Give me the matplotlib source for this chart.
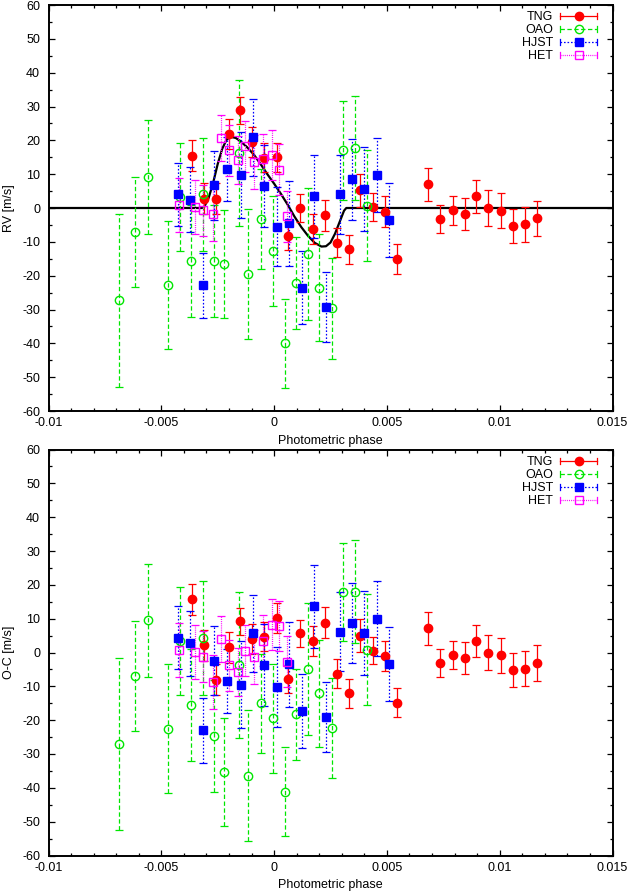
import matplotlib
matplotlib.use('Agg')
import matplotlib.pyplot as plt
from matplotlib.lines import Line2D
from matplotlib.legend_handler import HandlerBase
from matplotlib.ticker import MultipleLocator, FixedLocator, FixedFormatter

plt.rcParams['font.family'] = ['Liberation Sans', 'DejaVu Sans']
plt.rcParams['axes.unicode_minus'] = False

# ---------------- data ----------------
tng_phase = [-0.00363, -0.00310, -0.00257, -0.00202, -0.00149, -0.00096, -0.00043, 0.00012,
             0.00063, 0.00116, 0.00171, 0.00224, 0.00277, 0.00330, 0.00382, 0.00437,
             0.00490, 0.00544, 0.00683, 0.00736, 0.00791, 0.00845, 0.00897, 0.00950,
             0.01004, 0.01058, 0.01111, 0.01164]
tng_rv = [15.5, 2.8, 2.8, 21.8, 28.9, 19.5, 14.9, 15.0,
          -8.3, 0.0, -6.3, -2.1, -10.3, -12.2, 5.2, 0.3,
          -1.1, -15.0, 7.0, -3.2, -0.7, -1.7, 3.4, 0.0,
          -0.8, -5.2, -4.8, -3.1]
tng_err = [4.5, 4.5, 4.5, 4.5, 4.0, 4.5, 4.3, 4.3,
           4.2, 4.0, 4.4, 4.6, 4.3, 4.3, 4.8, 4.0,
           4.5, 4.4, 4.9, 4.1, 4.2, 4.8, 4.8, 5.3,
           5.2, 5.0, 5.2, 5.2]
tng_oc = [15.7, 2.1, -8.0, 1.5, 9.3, 4.0, 4.7, 10.2,
          -7.9, 5.7, 3.5, 8.8, -6.3, -12.0, 5.0, 0.5,
          -1.0, -14.8, 7.2, -3.2, -0.7, -1.7, 3.4, 0.0,
          -0.8, -5.2, -4.8, -3.1]

oao_phase = [-0.00686, -0.00615, -0.00559, -0.00470, -0.00419, -0.00369, -0.00317, -0.00265,
             -0.00220, -0.00155, -0.00116, -0.00059, -0.00007, 0.00047, 0.00099, 0.00152,
             0.00200, 0.00255, 0.00307, 0.00358, 0.00410]
oao_rv = [-27.3, -7.1, 9.2, -22.7, 3.3, -15.7, 4.0, -15.7,
          -16.5, 16.2, -19.5, -3.2, -12.8, -40.0, -22.2, -13.5,
          -23.5, -29.7, 17.0, 17.8, 0.7]
oao_err = [25.5, 16.3, 16.8, 19.0, 16.0, 16.5, 16.8, 16.5,
           16.0, 21.5, 19.3, 14.7, 16.2, 13.2, 13.5, 19.5,
           15.9, 14.9, 14.5, 15.3, 16.4]
oao_oc = [-27.0, -6.9, 9.5, -22.5, 3.5, -15.5, 4.2, -24.6,
          -35.4, -3.7, -36.4, -15.0, -19.5, -41.1, -18.3, -4.8,
          -12.1, -22.3, 18.0, 18.0, 0.8]

hjst_phase = [-0.00428, -0.00373, -0.00317, -0.00265, -0.00209, -0.00147, -0.00094, -0.00043,
              0.00013, 0.00068, 0.00123, 0.00177, 0.00230, 0.00292, 0.00345, 0.00400,
              0.00454, 0.00510]
hjst_rv = [4.1, 2.5, -22.8, 6.7, 11.5, 9.7, 20.9, 6.5,
           -5.5, -4.5, -23.5, 3.5, -29.3, 4.0, 8.5, 5.7,
           9.7, -3.5]
hjst_err = [9.3, 9.7, 9.6, 10.2, 9.5, 12.8, 11.4, 12.0,
            11.7, 12.5, 10.9, 12.3, 10.4, 11.8, 11.9, 12.4,
            11.0, 10.9]
hjst_oc = [4.3, 2.7, -23.0, -2.5, -8.5, -9.5, 5.7, -3.7,
           -10.2, -3.5, -17.3, 13.7, -19.1, 6.2, 8.7, 5.8,
           10.0, -3.3]

het_phase = [-0.00423, -0.00350, -0.00313, -0.00271, -0.00235, -0.00198, -0.00161, -0.00128,
             -0.00087, -0.00050, -0.00010, 0.00023, 0.00056]
het_rv = [1.0, 0.2, -0.7, -1.8, 20.7, 17.0, 14.2, 18.2,
          13.5, 14.5, 15.7, 11.3, -2.5]
het_err = [8.0, 8.0, 7.5, 8.0, 6.8, 7.5, 7.0, 7.5,
           8.0, 7.5, 7.5, 7.5, 7.5]
het_oc = [0.8, 0.2, -1.2, -8.8, 4.0, -3.8, -5.8, 0.5,
          -1.3, 3.5, 8.2, 7.8, -2.7]

model_phase = [-0.0100, -0.0032, -0.0031, -0.0029, -0.0027, -0.0025, -0.0023, -0.0021,
               -0.0019, -0.0017, -0.0015, -0.0012, -0.0009, -0.0006, -0.0003, 0.0000,
               0.0003, 0.0006, 0.0009, 0.0012, 0.0015, 0.0018, 0.0021, 0.0023,
               0.0025, 0.0027, 0.0029, 0.0031, 0.0032, 0.0150]
model_rv = [0.0, 0.0, 0.3, 3.0, 7.5, 13.0, 17.5, 20.3,
            21.0, 20.7, 19.8, 18.0, 15.8, 13.0, 10.0, 7.2,
            4.2, 1.0, -2.5, -5.6, -8.2, -10.3, -11.4, -11.3,
            -10.2, -7.6, -4.2, -0.8, 0.0, 0.0]

xticks = [-0.01, -0.005, 0.0, 0.005, 0.01, 0.015]
xtick_labels = ['-0.01', '-0.005', '0', '0.005', '0.01', '0.015']
yticks = [-60, -50, -40, -30, -20, -10, 0, 10, 20, 30, 40, 50, 60]
ytick_labels = [str(v) for v in yticks]

# ---------------- styles ----------------
styles = [
    dict(name='TNG', color='#ff0000', marker='o', mfc='#ff0000', ls='-'),
    dict(name='OAO', color='#00e600', marker='o', mfc='none', ls=(0, (3.5, 2.0))),
    dict(name='HJST', color='#0000ff', marker='s', mfc='#0000ff', ls=(0, (1.3, 1.5))),
    dict(name='HET', color='#ff00ff', marker='s', mfc='none', ls=(0, (0.8, 0.9))),
]


class GnuErrHandler(HandlerBase):
    def __init__(self, st):
        super().__init__()
        self.st = st

    def create_artists(self, legend, orig_handle, xdescent, ydescent, width, height,
                       fontsize, trans):
        st = self.st
        y = height / 2.0 - ydescent
        x0 = -xdescent
        x1 = x0 + width
        xm = 0.5 * (x0 + x1)
        arts = [
            Line2D([x0, x1], [y, y], color=st['color'], linestyle=st['ls'], lw=0.9),
            Line2D([x0, x0], [y - 2.2, y + 2.2], color=st['color'], lw=0.9),
            Line2D([x1, x1], [y - 2.2, y + 2.2], color=st['color'], lw=0.9),
            Line2D([xm], [y], marker=st['marker'], ms=6, mfc=st['mfc'], mec=st['color'],
                   mew=1.0, linestyle='none'),
        ]
        for a in arts:
            a.set_transform(trans)
        return arts


W, H = 629, 894
FS = 9
fig = plt.figure(figsize=(W / 100, H / 100), dpi=100)
left = 48.5 / W
width = 564.0 / W
ax_top = fig.add_axes([left, 1 - 411.0 / H, width, 406.0 / H])
ax_bot = fig.add_axes([left, 1 - 855.5 / H, width, 406.0 / H])

datasets = [
    (tng_phase, tng_rv, tng_err, tng_oc),
    (oao_phase, oao_rv, oao_err, oao_oc),
    (hjst_phase, hjst_rv, hjst_err, hjst_oc),
    (het_phase, het_rv, het_err, het_oc),
]

for ax, which, ylabel in [(ax_top, 1, 'RV [m/s]'), (ax_bot, 3, 'O-C [m/s]')]:
    if which == 1:
        ax.plot(model_phase, model_rv, color='black', lw=1.6, zorder=1.5)
    handles = []
    hmap = {}
    for st, ds in zip(styles, datasets):
        ph, vals, err = ds[0], ds[which], ds[2]
        eb = ax.errorbar(ph, vals, yerr=err, fmt='none', ecolor=st['color'],
                         elinewidth=0.9, capsize=3, capthick=0.9, zorder=2)
        for lc in eb[2]:
            lc.set_linestyle(st['ls'])
        ax.plot(ph, vals, linestyle='none', marker=st['marker'], ms=6,
                mfc=st['mfc'], mec=st['color'], mew=1.0, zorder=2.1)
        h = Line2D([], [], color=st['color'])
        handles.append(h)
        hmap[h] = GnuErrHandler(st)
    leg = ax.legend(handles, [s['name'] for s in styles], handler_map=hmap,
                    loc='upper right', bbox_to_anchor=(0.973, 0.984),
                    borderpad=0, borderaxespad=0, frameon=False, markerfirst=False,
                    handlelength=2.95, handletextpad=0.6, labelspacing=0.08, fontsize=FS)

    ax.set_xlim(-0.01, 0.015)
    ax.set_ylim(-60, 60)
    ax.xaxis.set_major_locator(FixedLocator(xticks))
    ax.xaxis.set_major_formatter(FixedFormatter(xtick_labels))
    ax.xaxis.set_minor_locator(MultipleLocator(0.001))
    ax.yaxis.set_major_locator(FixedLocator(yticks))
    ax.yaxis.set_major_formatter(FixedFormatter(ytick_labels))
    ax.yaxis.set_minor_locator(MultipleLocator(5))
    ax.tick_params(which='both', direction='in', top=True, right=True,
                   labelsize=FS, width=0.9, color='black')
    ax.tick_params(which='major', length=4.5)
    ax.tick_params(which='minor', length=2.2)
    ax.tick_params(axis='y', pad=6)
    ax.tick_params(axis='x', pad=4.5)
    for sp in ax.spines.values():
        sp.set_linewidth(1.4)
    ax.set_xlabel('Photometric phase', fontsize=FS)
    ax.set_ylabel(ylabel, fontsize=FS)
    ax.xaxis.set_label_coords(0.5, -0.058)
    ax.yaxis.set_label_coords(-0.059, 0.5)

fig.savefig('out.png', dpi=100)
